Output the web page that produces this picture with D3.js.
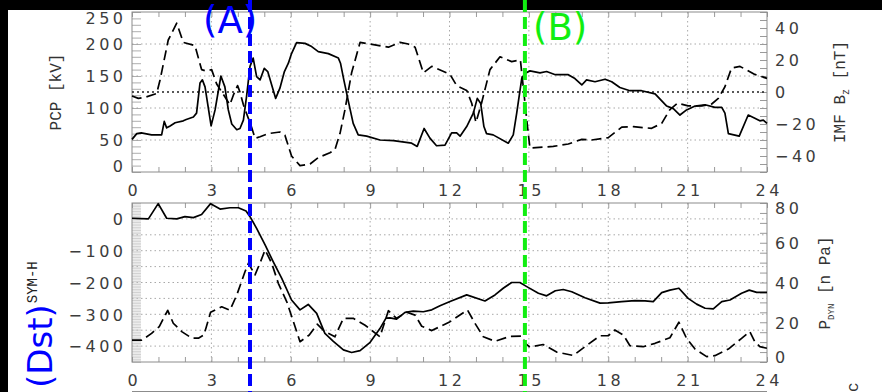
<!DOCTYPE html>
<html>
<head>
<meta charset="utf-8">
<script src="https://cdn.jsdelivr.net/npm/d3@7"></script>
<style>
body { margin: 0; background: #fff; }
svg { display: block; }
</style>
</head>
<body>
<div class="canvas"></div>
<script>
// ---- data (hours UT) ----
const pcpHours = [0, 0.18, 0.35, 0.74, 1.12, 1.22, 1.31, 1.44, 1.63, 1.94, 2.05, 2.32, 2.44, 2.57, 2.66, 2.76, 2.99, 3.14, 3.36, 3.51, 3.64, 3.77, 3.96, 4.08, 4.21, 4.33, 4.46, 4.58, 4.71, 4.84, 5.0, 5.13, 5.28, 5.43, 5.59, 5.76, 5.91, 6.03, 6.22, 6.54, 6.79, 7.04, 7.42, 7.8, 7.88, 8.0, 8.17, 8.36, 8.55, 8.87, 9.37, 9.88, 10.57, 10.78, 11.04, 11.26, 11.51, 11.83, 12.08, 12.27, 12.4, 12.65, 12.9, 13.05, 13.18, 13.3, 13.4, 13.65, 14.22, 14.41, 14.54, 14.73, 14.85, 15.04, 15.42, 15.67, 16.0, 16.49, 16.74, 17.0, 17.18, 17.5, 17.88, 18.13, 18.44, 18.82, 19.26, 19.77, 20.21, 20.46, 20.71, 20.96, 21.28, 21.66, 22.03, 22.29, 22.41, 22.54, 22.95, 23.29, 23.54, 23.73, 23.86, 24]
const pcpValues = [51, 60, 61, 58, 58, 79, 69, 72, 77, 80, 82, 86, 92, 139, 144, 133, 72, 97, 150, 133, 97, 75, 66, 68, 81, 118, 165, 178, 149, 144, 162, 157, 136, 115, 131, 157, 170, 185, 202, 201, 196, 188, 185, 178, 170, 145, 112, 76, 58, 56, 50, 49, 45, 40, 68, 53, 41, 42, 61, 61, 56, 71, 92, 115, 107, 71, 60, 58, 45, 58, 92, 146, 154, 158, 155, 157, 152, 152, 146, 136, 144, 141, 145, 141, 132, 127, 127, 122, 103, 99, 89, 97, 103, 105, 101, 101, 92, 60, 56, 89, 84, 80, 81, 76]

const bzHours = [0, 0.24, 0.49, 0.93, 1.06, 1.37, 1.69, 1.94, 2.38, 2.63, 2.82, 3.01, 3.2, 3.51, 3.7, 3.83, 3.99, 4.08, 4.21, 4.52, 4.65, 4.84, 5.15, 5.59, 5.78, 6.03, 6.35, 6.73, 7.04, 7.48, 7.67, 7.86, 8.05, 8.3, 8.62, 9.0, 9.69, 10.13, 10.44, 10.7, 11.01, 11.33, 12.02, 12.27, 12.65, 12.84, 13.0, 13.21, 13.53, 13.91, 14.35, 14.68, 14.95, 15.04, 15.92, 16.49, 17.0, 17.37, 18.0, 18.51, 18.95, 19.64, 20.02, 20.33, 20.62, 21.02, 21.53, 21.91, 22.16, 22.41, 22.66, 22.98, 23.54, 24]
const bzValues = [-2.5, -4, -3.3, -1, 7.5, 32.5, 43, 31, 29, 14, 13, 14, 5, -3, -8, -2, 4, 0, -8, -22, -29, -28, -26, -25, -27, -40, -46, -45, -41, -38, -36, -26, -11, 12, 31, 30, 28, 31, 30, 28, 12, 16, 11, 4, 1, -7, -19, -7, 14, 22, 19, 20, -22, -35, -34, -32.5, -29.6, -30, -28.5, -22, -21.7, -22.7, -19.6, -11, -7, -8.7, -8.7, -7.5, -4, 3.3, 15, 16, 11, 8.5]

const symHours = [0, 0.62, 0.99, 1.31, 1.69, 2.0, 2.32, 2.63, 2.97, 3.33, 3.7, 4.02, 4.31, 4.46, 4.71, 5.03, 5.34, 5.66, 6.03, 6.35, 6.66, 6.98, 7.29, 7.61, 7.99, 8.3, 8.62, 9.0, 9.37, 9.6, 9.75, 10.0, 10.32, 10.63, 11.01, 11.33, 11.64, 12.02, 12.65, 13.34, 13.72, 14.03, 14.35, 14.66, 14.92, 15.36, 15.67, 16.0, 16.3, 16.62, 17.12, 17.69, 18.0, 18.51, 19.01, 19.39, 19.7, 20.02, 20.33, 20.67, 21.02, 21.34, 21.66, 21.97, 22.29, 22.6, 23.04, 23.33, 23.61, 24]
const symValues = [2, 0, 48, 2, 0, 7, 4, 14, 48, 31, 35, 35, 25, 7, -30, -82, -135, -187, -255, -286, -269, -297, -360, -385, -412, -420, -414, -388, -345, -312, -311, -315, -294, -290, -292, -286, -273, -260, -239, -258, -239, -218, -200, -200, -213, -234, -242, -226, -222, -229, -248, -265, -264, -260, -257, -258, -260, -232, -224, -218, -250, -268, -281, -283, -260, -255, -234, -224, -231, -231]

const pdynHours = [0, 0.37, 0.74, 1.03, 1.35, 1.56, 1.88, 2.26, 2.51, 2.72, 2.97, 3.39, 3.7, 3.96, 4.27, 4.4, 4.65, 4.86, 5.03, 5.28, 5.53, 5.85, 6.1, 6.35, 6.7, 7.0, 7.29, 7.67, 7.99, 8.36, 8.81, 9.37, 9.69, 10.0, 10.38, 10.7, 10.95, 11.33, 12.02, 12.68, 12.96, 13.28, 13.72, 14.29, 14.75, 14.85, 15.04, 15.54, 16.05, 16.68, 17.12, 17.69, 18.0, 18.25, 18.57, 18.82, 19.32, 19.77, 20.33, 20.67, 20.96, 21.28, 21.72, 22.03, 22.54, 23.04, 23.35, 23.54, 23.73, 24]
const pdynValues = [11, 11, 14.4, 17.8, 26, 19.5, 15.3, 12, 12, 13.6, 25, 27.8, 26, 33.7, 45.4, 49.7, 43.8, 50.5, 56.4, 49.7, 39.6, 30.3, 20.3, 10.2, 13.6, 19, 15.3, 12.7, 22, 22, 18.5, 12.7, 25.8, 22, 25, 23.6, 18, 15.8, 20.3, 26.2, 19.5, 12.7, 10.4, 12.9, 13, 9.5, 7.5, 8.8, 5, 3.3, 7.7, 13.2, 13.2, 16.1, 13.6, 8.2, 7.7, 9.4, 12.2, 20, 11.9, 6.5, 2.7, 3.2, 6.5, 11.9, 15.3, 10.2, 7.7, 6.9]

// tick labels
const hourTicks = [0, 3, 6, 9, 12, 15, 18, 21, 24]
const pcpTicks = [0, 50, 100, 150, 200, 250]
const bzTicks = [-40, -20, 0, 20, 40]
const symTicks = [-400, -300, -200, -100, 0]
const pdynTicks = [0, 20, 40, 60, 80]

// event markers
const eventHours = [4.46, 14.85]
const eventLabels = ["(A)", "(B)"]
const eventColors = ["#0000ff", "#11ee11"]

// ---- layout ----
const W = 882, H = 392
const plotL = 132, plotR = 767
const topY0 = 12, topY1 = 172
const botY0 = 203, botY1 = 362

const svg = d3.select(".canvas")
    .append("svg")
    .attr("width", W)
    .attr("height", H)

svg.append("rect").attr("width", W).attr("height", H).attr("fill", "#fff")
svg.append("rect").attr("width", W).attr("height", 10).attr("fill", "#000")
svg.append("rect").attr("width", 8).attr("height", H).attr("fill", "#000")

const x = d3.scaleLinear().domain([0, 24]).range([plotL, plotR])
const yPcp = d3.scaleLinear().domain([0, 250]).range([topY1, topY0])
const yBz = d3.scaleLinear().domain([-50, 50]).range([topY1, topY0])
const ySym = d3.scaleLinear().domain([-450, 50]).range([botY1, botY0])
const yPdyn = d3.scaleLinear().domain([0, 80]).range([botY1, botY0])

const tickFont = "DejaVu Sans"
const ls = 3.5 // letter spacing of tick labels

function styleAxis(g) {
    g.select(".domain").remove()
    g.selectAll("line").attr("stroke", "#9a9a9a").attr("stroke-width", 1)
    g.selectAll("text")
        .attr("fill", "#3c3c3c")
        .style("font-family", tickFont)
        .style("font-size", "16px")
        .style("letter-spacing", ls + "px")
}

function panel(y0, y1, yL, yR, leftTicks, leftMinor, rightTicks, rightMinor, gridVals, leftShift, rightShift, minorColor) {
    const g = svg.append("g")

    // grid
    g.selectAll(".hgrid").data(gridVals).enter().append("line")
        .attr("x1", plotL).attr("x2", plotR)
        .attr("y1", d => yL(d)).attr("y2", d => yL(d))
        .attr("stroke", "#a8a8a8").attr("stroke-dasharray", "1.5,3")
    g.selectAll(".vgrid").data(hourTicks.slice(1, -1)).enter().append("line")
        .attr("x1", d => x(d)).attr("x2", d => x(d))
        .attr("y1", y0).attr("y2", y1)
        .attr("stroke", "#a8a8a8").attr("stroke-dasharray", "1.5,3")

    // minor ticks
    g.append("g").attr("transform", `translate(${plotL},0)`)
        .call(d3.axisLeft(yL).tickValues(leftMinor).tickSize(-9).tickFormat(""))
        .call(styleAxis)
        .selectAll("line").attr("stroke", minorColor).attr("stroke-width", 0.8)
    g.append("g").attr("transform", `translate(${plotR},0)`)
        .call(d3.axisRight(yR).tickValues(rightMinor).tickSize(-7).tickFormat(""))
        .call(styleAxis)
    g.append("g").attr("transform", `translate(0,${y1})`)
        .call(d3.axisBottom(x).ticks(24).tickSize(-5).tickFormat(""))
        .call(styleAxis)
    g.append("g").attr("transform", `translate(0,${y0})`)
        .call(d3.axisTop(x).ticks(24).tickSize(-5).tickFormat(""))
        .call(styleAxis)

    // labelled axes
    const la = g.append("g").attr("transform", `translate(${plotL},0)`)
        .call(d3.axisLeft(yL).tickValues(leftTicks).tickSize(0).tickPadding(9 - ls)
            .tickFormat(d => d < 0 ? "\u2212" + Math.abs(d) : d))
        .call(styleAxis)
    la.selectAll("text").attr("dy", d => (leftShift[d] || 0) + 5.8)
    const ra = g.append("g").attr("transform", `translate(${plotR},0)`)
        .call(d3.axisRight(yR).tickValues(rightTicks).tickSize(0).tickPadding(8)
            .tickFormat(d => d < 0 ? "\u2212" + Math.abs(d) : d))
        .call(styleAxis)
    ra.selectAll("text").attr("dy", d => (rightShift[d] || 0) + 5.8)
    const xa = g.append("g").attr("transform", `translate(0,${y1})`)
        .call(d3.axisBottom(x).tickValues(hourTicks).tickSize(0).tickPadding(13))
        .call(styleAxis)
    xa.selectAll("text").attr("dx", ls / 2)

    // frame
    g.append("rect")
        .attr("x", plotL).attr("y", y0)
        .attr("width", plotR - plotL).attr("height", y1 - y0)
        .attr("fill", "none").attr("stroke", "#8c8c8c").attr("stroke-width", 1)
    return g
}

const gTop = panel(topY0, topY1, yPcp, yBz, pcpTicks, d3.range(0, 251, 10), bzTicks, d3.range(-50, 51, 5),
    [50, 100, 150, 200], {0: -6, 250: 6}, {}, "#9a9a9a")
const gBot = panel(botY0, botY1, ySym, yPdyn, symTicks, d3.range(-450, 51, 5), pdynTicks, d3.range(0, 81, 5),
    [-400, -350, -300, -250, -200, -150, -100, -50, 0], {}, {0: -5, 80: 5}, "#c4c4c4")

// Bz zero line
gTop.append("line")
    .attr("x1", plotL).attr("x2", plotR)
    .attr("y1", yBz(0)).attr("y2", yBz(0))
    .attr("stroke", "#222").attr("stroke-width", 1.6).attr("stroke-dasharray", "2,3")

function drawLine(g, hours, values, y, dash) {
    const line = d3.line().x(d => x(d[0])).y(d => y(d[1]))
    g.append("path")
        .datum(d3.zip(hours, values))
        .attr("d", line)
        .attr("fill", "none")
        .attr("stroke", "#000")
        .attr("stroke-width", 1.7)
        .attr("stroke-linejoin", "round")
        .attr("stroke-dasharray", dash ? "10,5" : null)
}

drawLine(gTop, pcpHours, pcpValues, yPcp, false)
drawLine(gTop, bzHours, bzValues, yBz, true)
drawLine(gBot, symHours, symValues, ySym, false)
drawLine(gBot, pdynHours, pdynValues, yPdyn, true)

// axis titles
const titleFont = "Liberation Mono"
svg.append("text")
    .attr("transform", "translate(61,92) rotate(-90)")
    .attr("text-anchor", "middle")
    .style("font-family", titleFont).style("font-size", "16px")
    .attr("fill", "#333")
    .text("PCP [kV]")

const imf = svg.append("text")
    .attr("transform", "translate(845,92) rotate(-90)")
    .attr("text-anchor", "middle")
    .style("font-family", titleFont).style("font-size", "16px")
    .attr("fill", "#333")
imf.append("tspan").text("IMF B")
imf.append("tspan").attr("dy", 4).style("font-size", "10px").text("z")
imf.append("tspan").attr("dy", -4).text(" [nT]")

const pdyn = svg.append("text")
    .attr("transform", "translate(830,283) rotate(-90)")
    .attr("text-anchor", "middle")
    .style("font-family", titleFont).style("font-size", "16px")
    .attr("fill", "#333")
pdyn.append("tspan").text("P")
pdyn.append("tspan").attr("dy", 4).style("font-size", "9px").text("DYN")
pdyn.append("tspan").attr("dy", -4).text(" [n Pa]")

const dst = svg.append("text")
    .attr("transform", "translate(52,388) rotate(-90)")
dst.append("tspan")
    .attr("fill", "#0000ff")
    .style("font-family", "DejaVu Sans").style("font-size", "34px")
    .text("(Dst)")
dst.append("tspan")
    .attr("dy", -15).attr("dx", 1)
    .attr("fill", "#222")
    .style("font-family", titleFont).style("font-size", "14px")
    .text("SYM-H")

// cut-off pieces of the panel below
svg.append("line")
    .attr("x1", plotL).attr("x2", plotR)
    .attr("y1", 391.5).attr("y2", 391.5)
    .attr("stroke", "#8c8c8c")
svg.append("text")
    .attr("transform", "translate(858,392) rotate(-90)")
    .style("font-family", titleFont).style("font-size", "16px")
    .attr("fill", "#333")
    .text("c")

// event markers
svg.selectAll(".event").data(eventHours).enter().append("line")
    .attr("x1", d => x(d)).attr("x2", d => x(d))
    .attr("y1", 0).attr("y2", H)
    .attr("stroke", (d, i) => eventColors[i])
    .attr("stroke-width", 4)
    .attr("stroke-dasharray", "12,5")

svg.selectAll(".elabel").data(eventLabels).enter().append("text")
    .attr("x", (d, i) => i == 0 ? 203 : 533)
    .attr("y", (d, i) => i == 0 ? 33 : 40)
    .attr("fill", (d, i) => eventColors[i])
    .style("font-family", "DejaVu Sans")
    .style("font-size", "37px")
    .text(d => d)
</script>
</body>
</html>
